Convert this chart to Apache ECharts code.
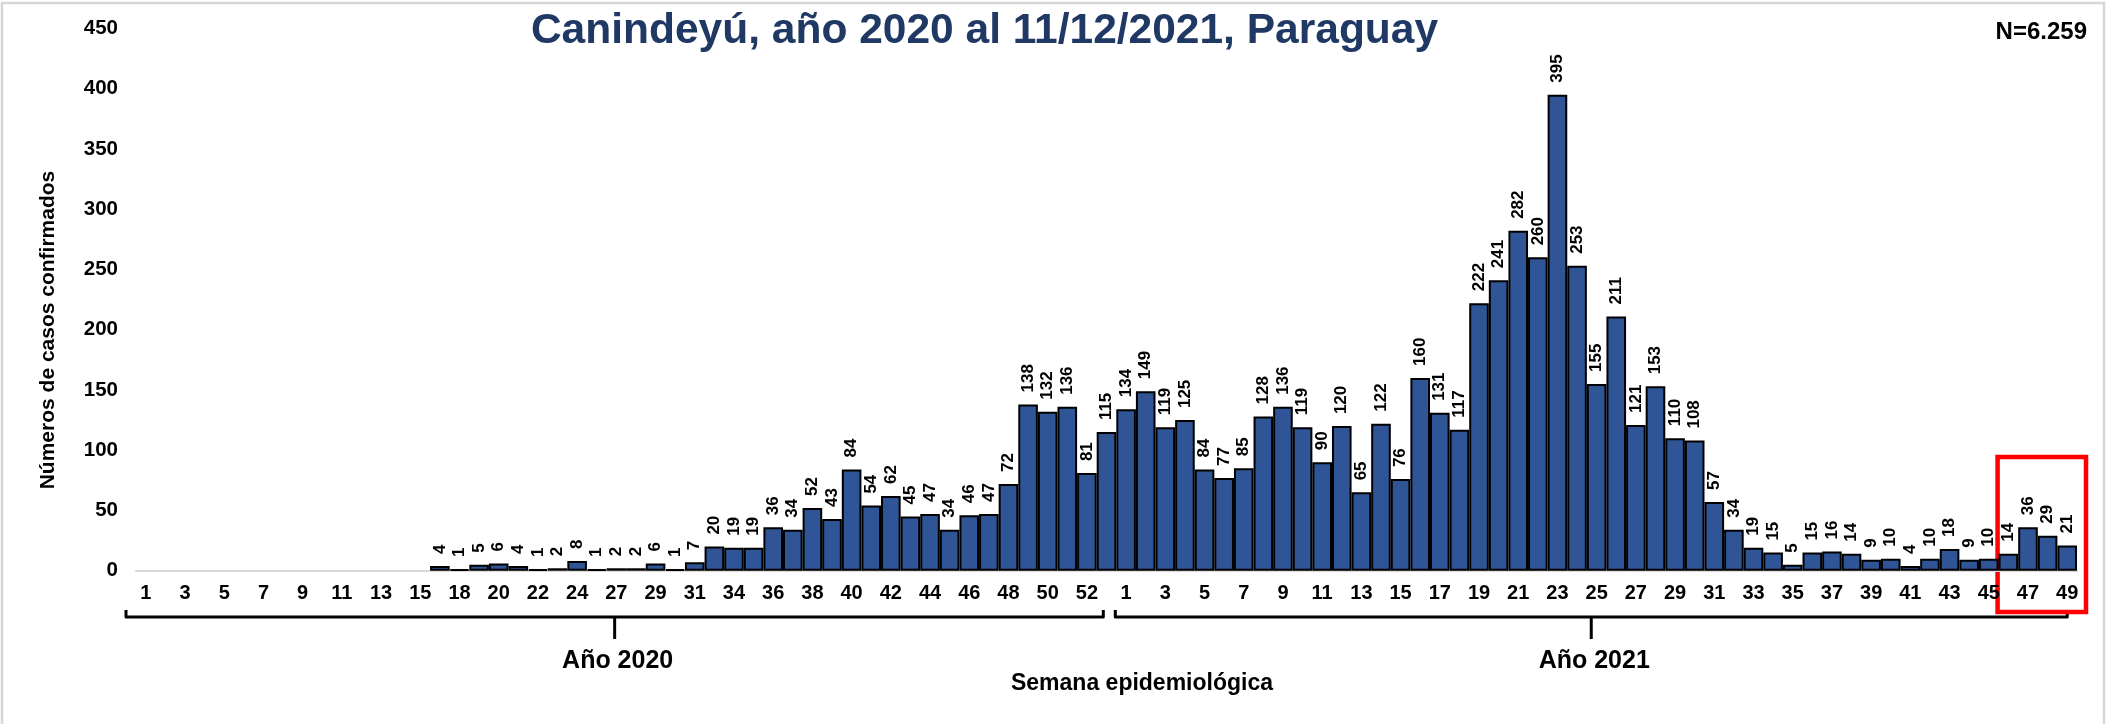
<!DOCTYPE html>
<html><head><meta charset="utf-8">
<script src="https://cdn.jsdelivr.net/npm/echarts@6/dist/echarts.min.js"></script>
<style>html,body{margin:0;padding:0;background:#fff}#c{width:2113px;height:724px}</style>
</head><body><div id="c"></div>
<script>
// ---- data ----
const weeks2020 = ['1','2','3','4','5','6','7','8','9','10','11','12','13','14','15','16',
  '18','19','20','21','22','23','24','25','27','28','29','30','31','32',
  '34','35','36','37','38','39','40','41','42','43','44','45','46','47','48','49','50','51','52','53'];
const cases2020 = [0,0,0,0,0,0,0,0,0,0,0,0,0,0,0,4,
  1,5,6,4,1,2,8,1,2,2,6,1,7,20,
  19,19,36,34,52,43,84,54,62,45,47,34,46,47,72,138,132,136,81,115];
const weeks2021 = ['1','2','3','4','5','6','7','8','9','10','11','12','13','14','15','16','17','18','19','20',
  '21','22','23','24','25','26','27','28','29','30','31','32','33','34','35','36','37','38','39','40',
  '41','42','43','44','45','46','47','48','49'];
const cases2021 = [134,149,119,125,84,77,85,128,136,119,90,120,65,122,76,160,131,117,222,241,
  282,260,395,253,155,211,121,153,110,108,57,34,19,15,5,15,16,14,9,10,
  4,10,18,9,10,14,36,29,21];
const yearLabels = ['Año 2020','Año 2021'];
const titleText = 'Canindeyú, año 2020 al 11/12/2021, Paraguay';
const yTitle = 'Números de casos confirmados';
const xTitle = 'Semana epidemiológica';

// ---- build ----
const FONT = "'Liberation Sans', Arial, Helvetica, sans-serif";
const categories = weeks2020.concat(weeks2021);
const values = cases2020.concat(cases2021);
const total = values.reduce((a,b)=>a+b,0);
const totalStr = 'N=' + String(total).replace(/\B(?=(\d{3})+(?!\d))/g, '.');

const chart = echarts.init(document.getElementById('c'));
chart.setOption({
  animation: false,
  backgroundColor: '#fff',
  grid: {left: 136, right: 36, top: 28.4, bottom: 153.3, containLabel: false},
  xAxis: {
    type: 'category', data: categories,
    axisTick: {show: false},
    axisLine: {lineStyle: {color: '#D9D9D9', width: 2}},
    axisLabel: {interval: 1, margin: 13, fontSize: 20, fontWeight: 'bold', color: '#000', fontFamily: FONT}
  },
  yAxis: {
    type: 'value', min: 0, max: 450, interval: 50,
    splitLine: {show: false}, axisLine: {show: false}, axisTick: {show: false},
    axisLabel: {margin: 18, fontSize: 20.5, fontWeight: 'bold', color: '#000', fontFamily: FONT}
  },
  series: [{
    type: 'bar',
    data: values.map(v => v === 0 ? null : v),
    barCategoryGap: '0%',
    itemStyle: {color: '#2F5597', borderColor: '#000', borderWidth: 2},
    label: {
      show: true, position: 'top', rotate: 90, align: 'left', verticalAlign: 'middle',
      distance: 12, fontSize: 17, fontWeight: 'bold', color: '#000', fontFamily: FONT,
      formatter: p => (p.value ? String(p.value) : '')
    }
  }]
});

// ---- annotations tied to the axis ----
const px = i => chart.convertToPixel({xAxisIndex: 0}, i);
const w = px(1) - px(0);
const n20 = weeks2020.length, n = categories.length;
const braceY = 617, hook = 7, tickLen = 22;
const braces = [
  [px(0) - w/2 - 10, px(n20 - 1) + w/2 - 13],
  [px(n20) - w/2 - 1, px(n - 1)]
];
const g = [];
g.push({type: 'rect', shape: {x: 2, y: 3, width: 2102, height: 740},
  style: {fill: 'none', stroke: '#D6D6D6', lineWidth: 2.5}, silent: true});
braces.forEach((b, k) => {
  const mid = (b[0] + b[1]) / 2;
  g.push({type: 'polyline', shape: {points: [[b[0], braceY - hook], [b[0], braceY], [b[1], braceY], [b[1], braceY - hook]]},
    style: {stroke: '#000', lineWidth: 3, fill: 'none', lineJoin: 'round'}});
  g.push({type: 'line', shape: {x1: mid, y1: braceY, x2: mid, y2: braceY + tickLen},
    style: {stroke: '#000', lineWidth: 3}});
  g.push({type: 'text', x: mid + 3, y: 661,
    style: {text: yearLabels[k], font: 'bold 25px ' + FONT, fill: '#000', align: 'center', verticalAlign: 'middle'}});
});
g.push({type: 'text', x: 1142, y: 684,
  style: {text: xTitle, font: 'bold 23px ' + FONT, fill: '#000', align: 'center', verticalAlign: 'middle'}});
g.push({type: 'text', x: 48, y: 330, rotation: Math.PI / 2,
  style: {text: yTitle, font: 'bold 21px ' + FONT, fill: '#000', align: 'center', verticalAlign: 'middle'}});
g.push({type: 'text', x: 984.5, y: 31,
  style: {text: titleText, font: 'bold 42.5px ' + FONT, fill: '#1F3864', align: 'center', verticalAlign: 'middle'}});
g.push({type: 'text', x: 2087, y: 32,
  style: {text: totalStr, font: 'bold 24px ' + FONT, fill: '#000', align: 'right', verticalAlign: 'middle'}});
// red highlight box around the last weeks
const rx0 = px(n - 4) - w/2 - 1, rx1 = px(n - 1) + w/2 + 9;
g.push({type: 'rect', shape: {x: rx0, y: 457, width: rx1 - rx0, height: 155},
  style: {fill: 'none', stroke: '#FF0000', lineWidth: 4.5}});
chart.setOption({graphic: g});
</script>
</body></html>
